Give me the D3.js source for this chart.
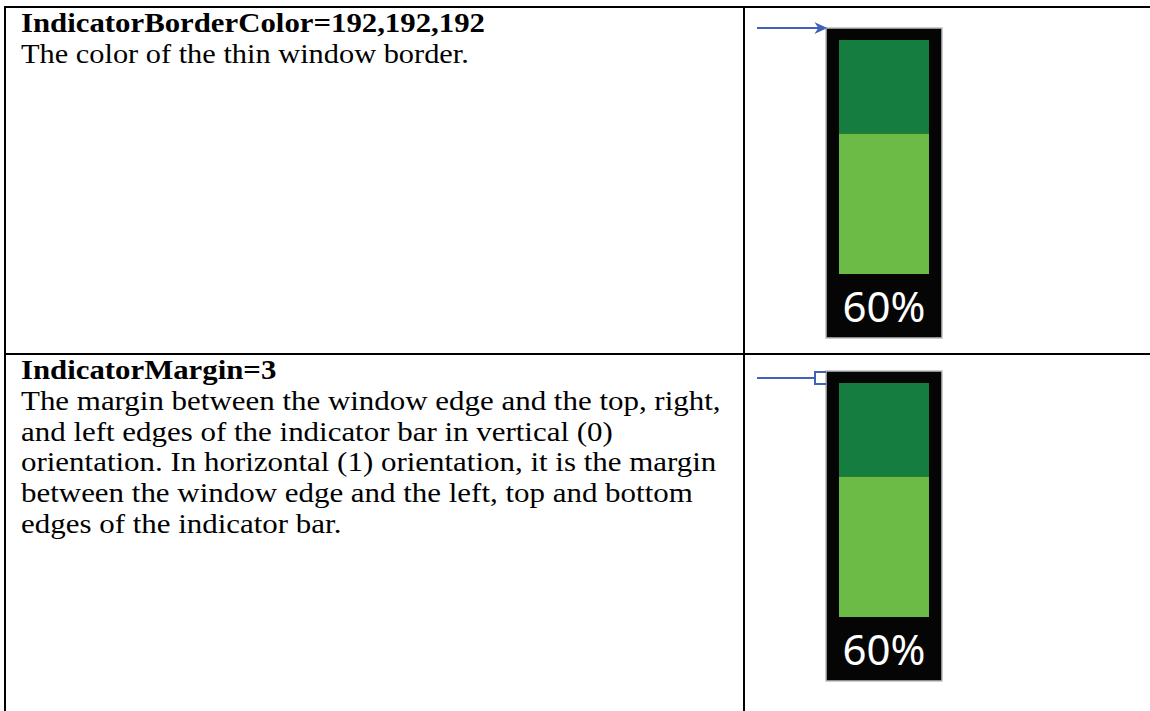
<!DOCTYPE html>
<html>
<head>
<meta charset="utf-8">
<script src="https://cdn.jsdelivr.net/npm/d3@7"></script>
<style>
  html, body { margin: 0; padding: 0; background: #fff; }
  svg { display: block; }
</style>
</head>
<body>
<svg id="chart" width="1150" height="711"></svg>
<script>
// ---- data ----
const settingNames = ["IndicatorBorderColor=192,192,192", "IndicatorMargin=3"];
const descriptionLines = [
  ["The color of the thin window border."],
  ["The margin between the window edge and the top, right,",
   "and left edges of the indicator bar in vertical (0)",
   "orientation. In horizontal (1) orientation, it is the margin",
   "between the window edge and the left, top and bottom",
   "edges of the indicator bar."]
];
const indicatorValues = [60, 60];
const pointerKinds = ["arrow", "bracket"];

// ---- layout ----
const W = 1150, H = 711;
const svg = d3.select("#chart");
const rowTop = [7, 354];
const colX = 744, leftX = 5;
const serif = "'Liberation Serif', 'Times New Roman', serif";
const fs = 28, sxBold = 1.10, sxReg = [1.085, 1.105];

// table lines
const grid = svg.append("g").attr("stroke", "#000").attr("stroke-width", 2);
grid.append("line").attr("x1", leftX).attr("x2", leftX).attr("y1", rowTop[0] - 1).attr("y2", H);
grid.append("line").attr("x1", colX).attr("x2", colX).attr("y1", rowTop[0] - 1).attr("y2", H);
rowTop.forEach(y => grid.append("line").attr("x1", leftX - 1).attr("x2", W).attr("y1", y).attr("y2", y));

// panel rows
const rows = svg.selectAll("g.row")
  .data(settingNames.map((n, i) => ({name: n, lines: descriptionLines[i], value: indicatorValues[i], kind: pointerKinds[i], top: rowTop[i], idx: i})))
  .join("g").attr("class", "row");

rows.append("text")
  .attr("transform", d => `translate(21,${d.top + 25}) scale(${sxBold},1)`)
  .attr("font-family", serif).attr("font-weight", "bold").attr("font-size", fs)
  .attr("fill", "#000")
  .text(d => d.name);

rows.each(function(d) {
  const g = d3.select(this);
  g.selectAll("text.desc").data(d.lines).join("text")
    .attr("class", "desc")
    .attr("transform", (l, j) => `translate(21,${d.top + 56 + j * 30.7}) scale(${sxReg[d.idx]},1)`)
    .attr("font-family", serif).attr("font-size", fs).attr("fill", "#000")
    .text(l => l);
});

// indicator gauges
const boxOffset = [21, 17];   // outer box top relative to row top
rows.each(function(d, i) {
  const g = d3.select(this);
  const bx = 826, bw = 116, by = d.top + boxOffset[i], bh = 310;
  const gx = 839, gw = 90, gTop = by + 12, gBot = by + 246;
  const y = d3.scaleLinear().domain([0, 100]).range([gBot, gTop]);

  g.append("rect").attr("x", bx).attr("y", by).attr("width", bw).attr("height", bh)
    .attr("fill", "#050505").attr("stroke", "#bdbdbd").attr("stroke-width", 1.5);
  // empty part (dark green)
  g.append("rect").attr("x", gx).attr("y", y(100)).attr("width", gw).attr("height", y(d.value) - y(100))
    .attr("fill", "#157d3f");
  // filled part (light green)
  g.append("rect").attr("x", gx).attr("y", y(d.value)).attr("width", gw).attr("height", y(0) - y(d.value))
    .attr("fill", "#6cbb46");
  g.append("text")
    .attr("x", gx + gw / 2).attr("y", by + 294)
    .attr("text-anchor", "middle")
    .attr("font-family", "'Noto Sans', 'Open Sans', sans-serif").attr("font-size", 42)
    .attr("fill", "#fff")
    .text(d3.format(".0f")(d.value) + "%");

  const blue = "#4361b8";
  if (d.kind === "arrow") {
    const ay = by;
    g.append("line").attr("x1", 757).attr("x2", 819).attr("y1", ay).attr("y2", ay)
      .attr("stroke", blue).attr("stroke-width", 2);
    g.append("path").attr("d", `M816,${ay - 4.5} L826,${ay} L816,${ay + 4.5} L819,${ay} Z`)
      .attr("fill", blue).attr("stroke", blue).attr("stroke-width", 1.2);
  } else {
    const t = by + 1, b = gTop + 1, mid = (t + b) / 2;
    g.append("line").attr("x1", 757).attr("x2", 815).attr("y1", mid).attr("y2", mid)
      .attr("stroke", blue).attr("stroke-width", 2);
    g.append("path").attr("d", `M826,${t} H815 V${b} H826`)
      .attr("fill", "none").attr("stroke", blue).attr("stroke-width", 2);
  }
});
</script>
</body>
</html>
